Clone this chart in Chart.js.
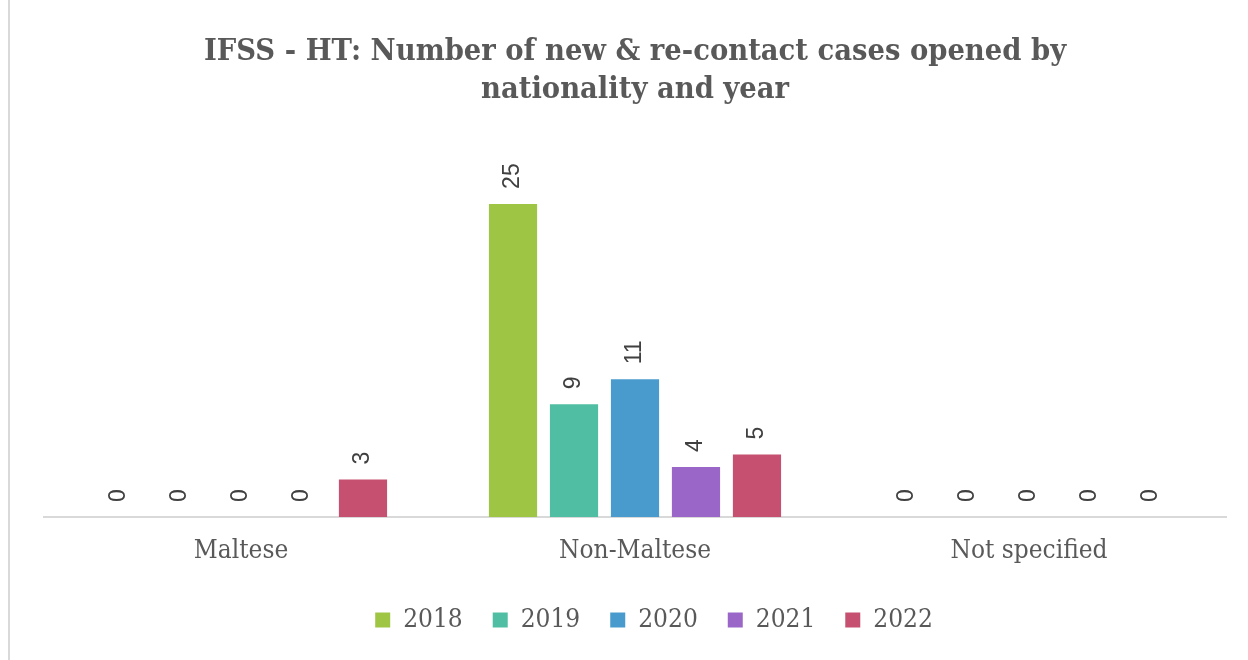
<!DOCTYPE html>
<html>
<head>
<meta charset="utf-8">
<script src="https://cdn.jsdelivr.net/npm/chart.js@4.4.0/dist/chart.umd.min.js"></script>
<style>
  html, body { margin: 0; padding: 0; background: #fff; }
  #wrap { width: 1248px; height: 660px; position: relative; }
</style>
</head>
<body>
<div id="wrap"><canvas id="canvas" width="1248" height="660"></canvas></div>
<script>
let categorias = ['Maltese', 'Non-Maltese', 'Not specified'];
let anos = ['2018', '2019', '2020', '2021', '2022'];
let cores = ['#9fc544', '#50bea2', '#489bcc', '#9a66c8', '#c5506f'];

let casos2018 = [0, 25, 0];
let casos2019 = [0, 9, 0];
let casos2020 = [0, 11, 0];
let casos2021 = [0, 4, 0];
let casos2022 = [3, 5, 0];

let series = [casos2018, casos2019, casos2020, casos2021, casos2022];

let slab = '"DejaVu Serif Condensed", "DejaVu Serif", serif';

// rotated value labels above each bar
let rotuloBarras = {
  id: 'rotuloBarras',
  afterDatasetsDraw(chart) {
    let ctx = chart.ctx;
    ctx.save();
    ctx.font = '23px "Liberation Sans", Arial, sans-serif';
    ctx.fillStyle = '#404040';
    ctx.textAlign = 'left';
    ctx.textBaseline = 'middle';
    chart.data.datasets.forEach(function(ds, i) {
      let meta = chart.getDatasetMeta(i);
      meta.data.forEach(function(bar, j) {
        ctx.save();
        ctx.translate(bar.x, bar.y - 15);
        ctx.rotate(-Math.PI / 2);
        ctx.fillText(String(ds.data[j]), 0, 0);
        ctx.restore();
      });
    });
    ctx.restore();
  }
};

// thin frame line on the left side
let moldura = {
  id: 'moldura',
  beforeDraw(chart) {
    let ctx = chart.ctx;
    ctx.save();
    ctx.fillStyle = '#d9d9d9';
    ctx.fillRect(8, 0, 2, chart.height);
    ctx.restore();
  }
};

// the legend in the original sits a bit right of the plot centre
let deslocaLegenda = {
  id: 'deslocaLegenda',
  afterLayout(chart) {
    chart.legend.left += 19;
    chart.legend.right += 19;
  }
};

let datasets = [];
for (let i = 0; i < anos.length; i++) {
  datasets.push({
    label: anos[i],
    data: series[i],
    backgroundColor: cores[i],
    borderWidth: 0,
    categoryPercentage: 0.774,
    barPercentage: 0.79
  });
}

let configuracao = {
  type: 'bar',
  data: {
    labels: categorias,
    datasets: datasets
  },
  options: {
    responsive: false,
    animation: false,
    layout: {
      padding: { left: 44, right: 22, top: 14, bottom: 17 }
    },
    plugins: {
      title: {
        display: true,
        text: ['IFSS - HT: Number of new & re-contact cases opened by', 'nationality and year'],
        color: '#595959',
        font: { family: slab, size: 30.5, weight: 'bold', lineHeight: 1.25 },
        padding: { top: 19, bottom: 32 }
      },
      legend: {
        position: 'bottom',
        labels: {
          color: '#595959',
          boxWidth: 15,
          boxHeight: 15,
          padding: 30,
          font: { family: slab, size: 26 }
        }
      },
      tooltip: { enabled: false }
    },
    scales: {
      x: {
        grid: { display: false },
        border: { display: true, color: '#d9d9d9', width: 2 },
        ticks: {
          color: '#595959',
          padding: 18,
          font: { family: slab, size: 26, lineHeight: 0.615 }
        }
      },
      y: {
        display: false,
        min: 0,
        max: 30
      }
    }
  },
  plugins: [rotuloBarras, moldura, deslocaLegenda]
};

let chart = new Chart(document.getElementById('canvas'), configuracao);
</script>
</body>
</html>
